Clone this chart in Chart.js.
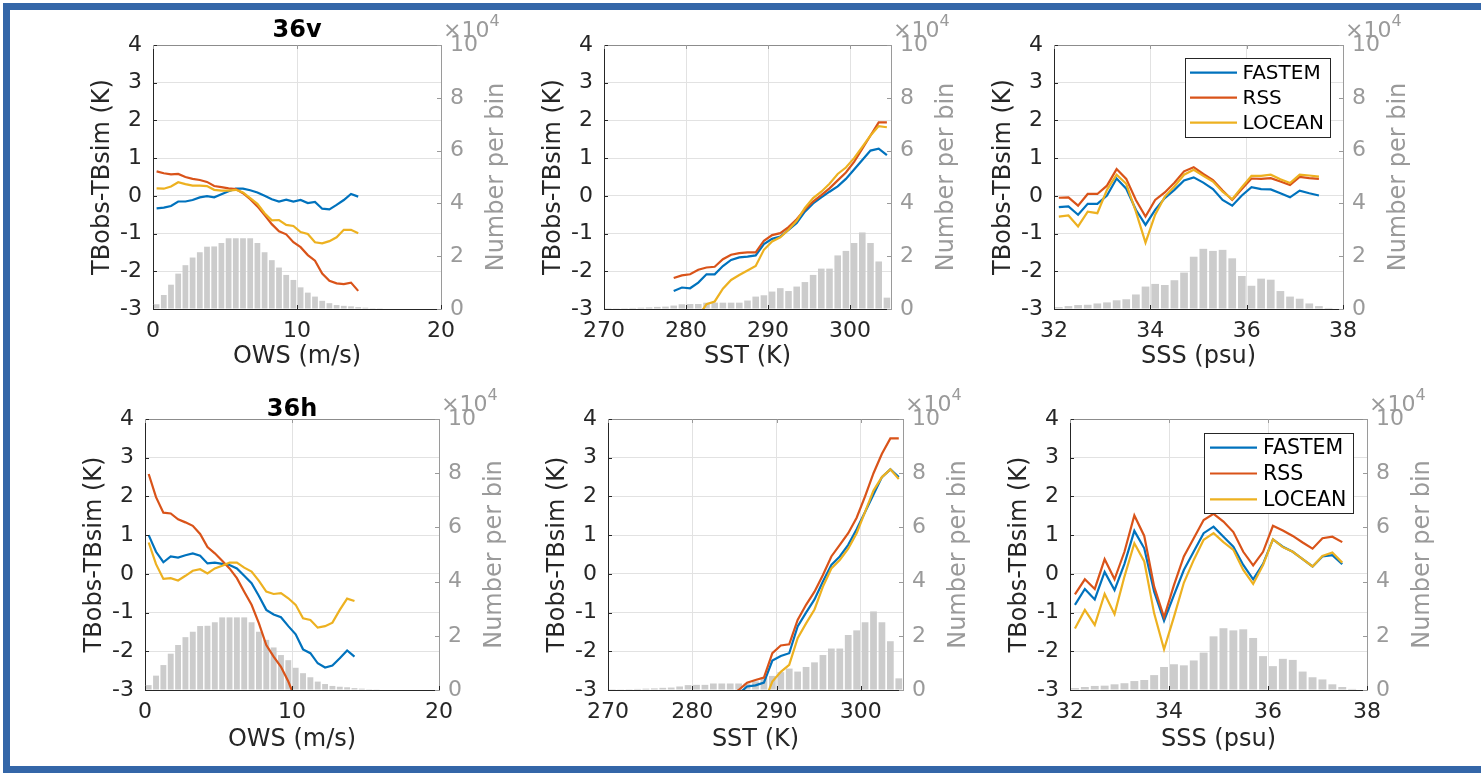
<!DOCTYPE html>
<html>
<head>
<meta charset="utf-8">
<script src="https://cdn.jsdelivr.net/npm/chart.js@4.4.1/dist/chart.umd.min.js"></script>
<style>
  body { margin: 0; width: 1481px; height: 776px; overflow: hidden; position: relative; background: #fff; }
  #frame { position: absolute; left: 3px; top: 3px; width: 1480px; height: 756px; border: 7px solid #3466a8; border-right: none; box-sizing: content-box; }
  .panel { position: absolute; }
</style>
</head>
<body>
<div id="frame"></div>
<div class="panel" id="p1"><canvas id="c1"></canvas></div>
<div class="panel" id="p2"><canvas id="c2"></canvas></div>
<div class="panel" id="p3"><canvas id="c3"></canvas></div>
<div class="panel" id="p4"><canvas id="c4"></canvas></div>
<div class="panel" id="p5"><canvas id="c5"></canvas></div>
<div class="panel" id="p6"><canvas id="c6"></canvas></div>
<script>
// ---- datos ----
const seriesNames = ['FASTEM', 'RSS', 'LOCEAN'];
const tbTicks = [-3, -2, -1, 0, 1, 2, 3, 4];
const countTicks = [0, 2, 4, 6, 8, 10];   // x10^4

// OWS (m/s)
const owsTicks = [0, 10, 20];
const owsX = [0.25, 0.75, 1.25, 1.75, 2.25, 2.75, 3.25, 3.75, 4.25, 4.75, 5.25, 5.75, 6.25, 6.75, 7.25,
  7.75, 8.25, 8.75, 9.25, 9.75, 10.25, 10.75, 11.25, 11.75, 12.25, 12.75, 13.25, 13.75, 14.25];
const owsBinX = [0.25, 0.75, 1.25, 1.75, 2.25, 2.75, 3.25, 3.75, 4.25, 4.75, 5.25, 5.75, 6.25, 6.75, 7.25,
  7.75, 8.25, 8.75, 9.25, 9.75, 10.25, 10.75, 11.25, 11.75, 12.25, 12.75, 13.25, 13.75, 14.25, 14.75, 15.25, 15.75];
const owsCount = [0.18, 0.53, 0.92, 1.34, 1.66, 1.95, 2.15, 2.36, 2.37, 2.5, 2.68, 2.68, 2.68, 2.68, 2.5,
  2.15, 1.85, 1.57, 1.29, 1.1, 0.82, 0.62, 0.47, 0.31, 0.22, 0.15, 0.12, 0.1, 0.07, 0.05, 0.03, 0.01];
const owsFastemV = [-0.33, -0.31, -0.27, -0.15, -0.15, -0.11, -0.04, -0.01, -0.04, 0.04, 0.12, 0.19, 0.19, 0.15, 0.09,
  0, -0.09, -0.15, -0.1, -0.15, -0.11, -0.19, -0.16, -0.34, -0.36, -0.24, -0.11, 0.05, -0.02];
const owsRssV = [0.65, 0.6, 0.57, 0.58, 0.5, 0.45, 0.42, 0.37, 0.26, 0.23, 0.2, 0.18, 0.07, -0.09, -0.28,
  -0.51, -0.75, -0.94, -1.02, -1.23, -1.36, -1.57, -1.72, -2.06, -2.25, -2.32, -2.34, -2.3, -2.52];
const owsLoceanV = [0.2, 0.19, 0.25, 0.36, 0.31, 0.27, 0.27, 0.26, 0.16, 0.14, 0.14, 0.16, 0.09, -0.06, -0.21,
  -0.46, -0.65, -0.64, -0.77, -0.8, -0.96, -1.01, -1.23, -1.26, -1.2, -1.1, -0.9, -0.9, -0.99];
const owsFastemH = [1.0, 0.57, 0.3, 0.45, 0.42, 0.48, 0.53, 0.47, 0.27, 0.29, 0.26, 0.23, 0.14, -0.05, -0.24,
  -0.57, -0.93, -1.05, -1.12, -1.35, -1.56, -1.95, -2.05, -2.31, -2.42, -2.37, -2.18, -1.98, -2.14];
const owsRssH = [2.58, 1.98, 1.58, 1.56, 1.41, 1.33, 1.24, 1.03, 0.69, 0.53, 0.34, 0.14, -0.11, -0.46, -0.8,
  -1.28, -1.84, -2.14, -2.4, -2.78, -3.26, -3.55, -3.8, -4.05, -4.25, -4.4, -4.5, -4.55, -4.6];
const owsLoceanH = [0.81, 0.25, -0.13, -0.11, -0.17, -0.05, 0.08, 0.12, 0.01, 0.14, 0.21, 0.29, 0.29, 0.16, 0.06,
  -0.18, -0.46, -0.52, -0.5, -0.63, -0.8, -1.15, -1.19, -1.39, -1.35, -1.26, -0.93, -0.64, -0.7];

// SST (K)
const sstTicks = [270, 280, 290, 300];
const sstX = [278.5, 279.5, 280.5, 281.5, 282.5, 283.5, 284.5, 285.5, 286.5, 287.5, 288.5, 289.5, 290.5, 291.5,
  292.5, 293.5, 294.5, 295.5, 296.5, 297.5, 298.5, 299.5, 300.5, 301.5, 302.5, 303.5, 304.5];
const sstBinX = [270.5, 271.5, 272.5, 273.5, 274.5, 275.5, 276.5, 277.5, 278.5, 279.5, 280.5, 281.5, 282.5, 283.5,
  284.5, 285.5, 286.5, 287.5, 288.5, 289.5, 290.5, 291.5, 292.5, 293.5, 294.5, 295.5, 296.5, 297.5, 298.5,
  299.5, 300.5, 301.5, 302.5, 303.5, 304.5];
const sstCount = [0.005, 0.01, 0.03, 0.04, 0.05, 0.06, 0.08, 0.09, 0.13, 0.18, 0.19, 0.19, 0.24, 0.24,
  0.24, 0.24, 0.24, 0.32, 0.47, 0.52, 0.66, 0.79, 0.68, 0.85, 1.02, 1.29, 1.53, 1.53, 2.03,
  2.2, 2.5, 2.9, 2.5, 1.8, 0.43];
const sstFastemV = [-2.52, -2.43, -2.45, -2.3, -2.08, -2.08, -1.86, -1.7, -1.63, -1.61, -1.58, -1.28, -1.14, -1.08,
  -0.9, -0.72, -0.42, -0.2, -0.04, 0.11, 0.25, 0.45, 0.7, 0.95, 1.2, 1.25, 1.08];
const sstRssV = [-2.18, -2.11, -2.08, -1.96, -1.9, -1.88, -1.68, -1.56, -1.52, -1.5, -1.5, -1.19, -1.04, -0.99,
  -0.83, -0.62, -0.36, -0.15, 0.02, 0.2, 0.41, 0.62, 0.9, 1.25, 1.6, 1.95, 1.95];
const sstLoceanV = [-3.9, -3.7, -3.45, -3.2, -2.87, -2.8, -2.46, -2.23, -2.1, -1.98, -1.86, -1.43, -1.21, -1.1,
  -0.9, -0.66, -0.32, -0.06, 0.11, 0.32, 0.58, 0.75, 1.0, 1.3, 1.6, 1.85, 1.82];
const sstFastemH = [-3.9, -3.8, -3.7, -3.6, -3.5, -3.4, -3.25, -3.1, -2.91, -2.88, -2.81, -2.24, -2.12, -2.05,
  -1.36, -1.0, -0.66, -0.2, 0.23, 0.45, 0.75, 1.15, 1.6, 2.05, 2.5, 2.7, 2.5];
const sstRssH = [-3.9, -3.8, -3.7, -3.6, -3.45, -3.3, -3.15, -3.0, -2.81, -2.74, -2.68, -2.05, -1.85, -1.82,
  -1.19, -0.8, -0.46, -0.03, 0.45, 0.75, 1.05, 1.45, 2.0, 2.6, 3.1, 3.5, 3.5];
const sstLoceanH = [-4.5, -4.4, -4.3, -4.2, -4.1, -4.0, -3.9, -3.8, -3.65, -3.5, -3.33, -2.78, -2.53, -2.35,
  -1.66, -1.28, -0.92, -0.33, 0.14, 0.36, 0.65, 1.05, 1.6, 2.15, 2.5, 2.7, 2.45];

// SSS (psu)
const sssTicks = [32, 34, 36, 38];
const sssX = [32.1, 32.3, 32.5, 32.7, 32.9, 33.1, 33.3, 33.5, 33.7, 33.9, 34.1, 34.3, 34.5, 34.7,
  34.9, 35.1, 35.3, 35.5, 35.7, 35.9, 36.1, 36.3, 36.5, 36.7, 36.9, 37.1, 37.3, 37.5];
const sssBinX = [32.1, 32.3, 32.5, 32.7, 32.9, 33.1, 33.3, 33.5, 33.7, 33.9, 34.1, 34.3, 34.5, 34.7,
  34.9, 35.1, 35.3, 35.5, 35.7, 35.9, 36.1, 36.3, 36.5, 36.7, 36.9, 37.1, 37.3, 37.5, 37.7];
const sssCount = [0.07, 0.11, 0.15, 0.16, 0.21, 0.25, 0.33, 0.37, 0.55, 0.85, 0.95, 0.91, 1.09, 1.38,
  1.98, 2.28, 2.2, 2.24, 1.92, 1.25, 0.88, 1.15, 1.11, 0.68, 0.47, 0.39, 0.21, 0.11, 0.04];
const sssFastemV = [-0.3, -0.28, -0.5, -0.21, -0.21, 0.01, 0.46, 0.19, -0.37, -0.77, -0.37, -0.06, 0.16, 0.41,
  0.49, 0.35, 0.18, -0.11, -0.26, 0.01, 0.23, 0.18, 0.17, 0.07, -0.04, 0.14, 0.07, 0.01];
const sssRssV = [-0.05, -0.04, -0.26, 0.05, 0.05, 0.27, 0.71, 0.45, -0.11, -0.55, -0.11, 0.09, 0.35, 0.65,
  0.76, 0.58, 0.42, 0.14, -0.11, 0.18, 0.46, 0.45, 0.47, 0.38, 0.29, 0.5, 0.47, 0.45];
const sssLoceanV = [-0.55, -0.52, -0.81, -0.42, -0.46, 0.16, 0.56, 0.32, -0.42, -1.24, -0.5, -0.02, 0.25, 0.56,
  0.69, 0.53, 0.38, 0.11, -0.09, 0.23, 0.53, 0.53, 0.56, 0.44, 0.34, 0.56, 0.54, 0.51];
const sssFastemH = [-0.8, -0.39, -0.66, 0.05, -0.42, 0.26, 1.11, 0.66, -0.46, -1.21, -0.55, 0.1, 0.58, 1.05,
  1.22, 0.96, 0.7, 0.23, -0.14, 0.26, 0.89, 0.7, 0.57, 0.38, 0.19, 0.45, 0.48, 0.25];
const sssRssH = [-0.53, -0.14, -0.39, 0.38, -0.14, 0.57, 1.51, 0.98, -0.33, -1.12, -0.29, 0.45, 0.92, 1.39,
  1.55, 1.35, 1.08, 0.57, 0.22, 0.57, 1.24, 1.12, 0.98, 0.81, 0.65, 0.92, 0.96, 0.82];
const sssLoceanH = [-1.41, -0.93, -1.32, -0.52, -1.04, -0.07, 0.79, 0.32, -1.02, -1.95, -1.11, -0.23, 0.36, 0.88,
  1.05, 0.82, 0.62, 0.1, -0.26, 0.23, 0.89, 0.69, 0.57, 0.38, 0.19, 0.46, 0.55, 0.29];

// ---- estilo ----
const colors = ['#0072BD', '#D95319', '#EDB120'];
const DARK = '#262626', GREY = '#9a9a9a', GRID = '#e2e2e2', BAR = '#cccccc';
const M = { L: 80, R: 90, T: 45, B: 70 };
Chart.defaults.font.family = "'DejaVu Sans', sans-serif";

// caja, marcas hacia dentro, titulo, eje derecho, x10^4 y leyenda
const decor = {
  id: 'decor',
  afterDraw(chart, args, o) {
    const { ctx, chartArea: a, scales } = chart;
    ctx.save();
    ctx.lineWidth = 1;
    // linea superior de la caja
    ctx.strokeStyle = '#8c8c8c';
    ctx.beginPath(); ctx.moveTo(a.left, a.top + 0.5); ctx.lineTo(a.right, a.top + 0.5); ctx.stroke();
    // marcas
    const tl = 4;
    ctx.strokeStyle = DARK;
    ctx.beginPath();
    scales.y.ticks.forEach(t => { const y = Math.round(scales.y.getPixelForValue(t.value)) + 0.5; ctx.moveTo(a.left, y); ctx.lineTo(a.left + tl, y); });
    scales.x.ticks.forEach(t => { const x = Math.round(scales.x.getPixelForValue(t.value)) + 0.5; ctx.moveTo(x, a.bottom); ctx.lineTo(x, a.bottom - tl); });
    ctx.stroke();
    ctx.strokeStyle = GREY;
    ctx.beginPath();
    scales.y2.ticks.forEach(t => { const y = Math.round(scales.y2.getPixelForValue(t.value)) + 0.5; ctx.moveTo(a.right, y); ctx.lineTo(a.right - tl, y); });
    scales.x.ticks.forEach(t => { const x = Math.round(scales.x.getPixelForValue(t.value)) + 0.5; ctx.moveTo(x, a.top); ctx.lineTo(x, a.top + tl); });
    ctx.stroke();
    // titulo del eje derecho (leido de abajo arriba, como en MATLAB)
    ctx.save();
    ctx.translate(a.right + o.rightTitleGap, (a.top + a.bottom) / 2);
    ctx.rotate(-Math.PI / 2);
    ctx.fillStyle = GREY;
    ctx.font = "24px 'DejaVu Sans'";
    ctx.textAlign = 'center';
    ctx.textBaseline = 'middle';
    ctx.fillText('Number per bin', 0, 0);
    ctx.restore();
    // x10^4
    ctx.fillStyle = GREY;
    ctx.textBaseline = 'alphabetic';
    ctx.textAlign = 'left';
    ctx.font = "22px 'DejaVu Sans'";
    ctx.fillText('×10', a.right + 2, a.top - 8);
    const w = ctx.measureText('×10').width;
    ctx.font = "16px 'DejaVu Sans'";
    ctx.fillText('4', a.right + 2 + w, a.top - 19);
    // titulo
    if (o.title) {
      ctx.fillStyle = '#000';
      ctx.textAlign = 'center';
      ctx.font = "bold 24px 'DejaVu Sans'";
      ctx.fillText(o.title, (a.left + a.right) / 2, a.top - o.titleGap);
    }
    // leyenda
    if (o.legend) {
      const L = o.legend;
      const x0 = Math.round(a.right - L.dx - L.w), y0 = Math.round(a.top + L.dy);
      ctx.fillStyle = '#fff';
      ctx.fillRect(x0, y0, L.w, L.h);
      ctx.strokeStyle = DARK;
      ctx.strokeRect(x0 + 0.5, y0 + 0.5, L.w, L.h);
      ctx.font = L.size + "px 'DejaVu Sans'";
      ctx.textAlign = 'left';
      ctx.textBaseline = 'middle';
      seriesNames.forEach((n, i) => {
        const cy = y0 + L.first + i * L.row;
        ctx.strokeStyle = colors[i];
        ctx.lineWidth = 2.2;
        ctx.beginPath(); ctx.moveTo(x0 + L.lx, cy); ctx.lineTo(x0 + L.lx + L.len, cy); ctx.stroke();
        ctx.fillStyle = '#000';
        ctx.fillText(n, x0 + L.tx, cy + 1);
      });
    }
    ctx.restore();
  }
};

function pts(xs, ys) { return xs.map((x, i) => ({ x: x, y: ys[i] })); }

function makePanel(n, p) {
  const div = document.getElementById('p' + n);
  const cv = document.getElementById('c' + n);
  const W = p.w + M.L + M.R, H = p.h + M.T + M.B;
  div.style.left = (p.l - M.L) + 'px';
  div.style.top = (p.t - M.T) + 'px';
  cv.width = W; cv.height = H;
  cv.style.width = W + 'px'; cv.style.height = H + 'px';

  const datasets = [{
    type: 'bar', data: pts(p.binX, p.count), yAxisID: 'y2', backgroundColor: BAR,
    barPercentage: 0.8, categoryPercentage: 1, order: 10
  }];
  p.lines.forEach((ys, i) => datasets.push({
    type: 'line', label: seriesNames[i], data: pts(p.lineX, ys), yAxisID: 'y',
    borderColor: colors[i], borderWidth: 2.2, pointRadius: 0, tension: 0, fill: false, order: 3 - i
  }));

  const tickFont = { size: 22 };
  const titleFont = { size: 24 };
  new Chart(cv, {
    data: { datasets },
    plugins: [decor],
    options: {
      responsive: false, animation: false, devicePixelRatio: 1,
      layout: { padding: { top: M.T, left: 0, right: 0, bottom: 0 } },
      plugins: {
        legend: { display: false }, tooltip: { enabled: false },
        decor: { title: p.title, titleGap: p.titleGap, legend: p.legend, rightTitleGap: 56 }
      },
      scales: {
        x: {
          type: 'linear', position: 'bottom', min: p.xMin, max: p.xMax, offset: false,
          afterBuildTicks: s => { s.ticks = p.xTicks.map(v => ({ value: v })); },
          afterFit: s => { s.height = M.B; },
          ticks: { font: tickFont, color: DARK, padding: 9, maxRotation: 0, autoSkip: false },
          grid: { color: GRID, drawTicks: false, offset: false },
          border: { color: DARK },
          title: { display: true, text: p.xTitle, font: titleFont, color: DARK, padding: { top: 0, bottom: p.xTitlePad } }
        },
        y: {
          type: 'linear', position: 'left', min: -3, max: 4,
          afterBuildTicks: s => { s.ticks = tbTicks.map(v => ({ value: v })); },
          afterFit: s => { s.width = M.L; },
          ticks: { font: tickFont, color: DARK, padding: 11 },
          grid: { color: GRID, drawTicks: false },
          border: { color: DARK },
          title: { display: true, text: 'TBobs-TBsim (K)', font: titleFont, color: DARK, padding: { top: 15.6, bottom: 0 } }
        },
        y2: {
          type: 'linear', position: 'right', min: 0, max: 10,
          afterBuildTicks: s => { s.ticks = countTicks.map(v => ({ value: v })); },
          afterFit: s => { s.width = M.R; },
          ticks: { font: tickFont, color: GREY, padding: 9 },
          grid: { drawOnChartArea: false, drawTicks: false },
          border: { color: GREY },
          title: { display: false }
        }
      }
    }
  });
}

const legTop = { dx: 13, dy: 13, w: 145, h: 79, first: 14.7, row: 25, lx: 5, len: 47, tx: 57.5, size: 20 };
const legBot = { dx: 14, dy: 14, w: 149, h: 80, first: 14.7, row: 25.8, lx: 6, len: 47, tx: 59, size: 20.5 };

makePanel(1, { l: 153, t: 45, w: 288, h: 264, xMin: 0, xMax: 20, xTicks: owsTicks, xTitle: 'OWS (m/s)', xTitlePad: 7.6,
  binX: owsBinX, count: owsCount, lineX: owsX, lines: [owsFastemV, owsRssV, owsLoceanV], title: '36v', titleGap: 8 });
makePanel(2, { l: 604, t: 45, w: 287, h: 264, xMin: 270, xMax: 305, xTicks: sstTicks, xTitle: 'SST (K)', xTitlePad: 7.6,
  binX: sstBinX, count: sstCount, lineX: sstX, lines: [sstFastemV, sstRssV, sstLoceanV] });
makePanel(3, { l: 1054, t: 45, w: 289, h: 264, xMin: 32, xMax: 38, xTicks: sssTicks, xTitle: 'SSS (psu)', xTitlePad: 7.6,
  binX: sssBinX, count: sssCount, lineX: sssX, lines: [sssFastemV, sssRssV, sssLoceanV], legend: legTop });
makePanel(4, { l: 145, t: 419, w: 294, h: 271, xMin: 0, xMax: 20, xTicks: owsTicks, xTitle: 'OWS (m/s)', xTitlePad: 5.6,
  binX: owsBinX, count: owsCount, lineX: owsX, lines: [owsFastemH, owsRssH, owsLoceanH], title: '36h', titleGap: 3 });
makePanel(5, { l: 608, t: 419, w: 295, h: 271, xMin: 270, xMax: 305, xTicks: sstTicks, xTitle: 'SST (K)', xTitlePad: 5.6,
  binX: sstBinX, count: sstCount, lineX: sstX, lines: [sstFastemH, sstRssH, sstLoceanH] });
makePanel(6, { l: 1070, t: 419, w: 297, h: 271, xMin: 32, xMax: 38, xTicks: sssTicks, xTitle: 'SSS (psu)', xTitlePad: 5.6,
  binX: sssBinX, count: sssCount, lineX: sssX, lines: [sssFastemH, sssRssH, sssLoceanH], legend: legBot });
</script>
</body>
</html>
